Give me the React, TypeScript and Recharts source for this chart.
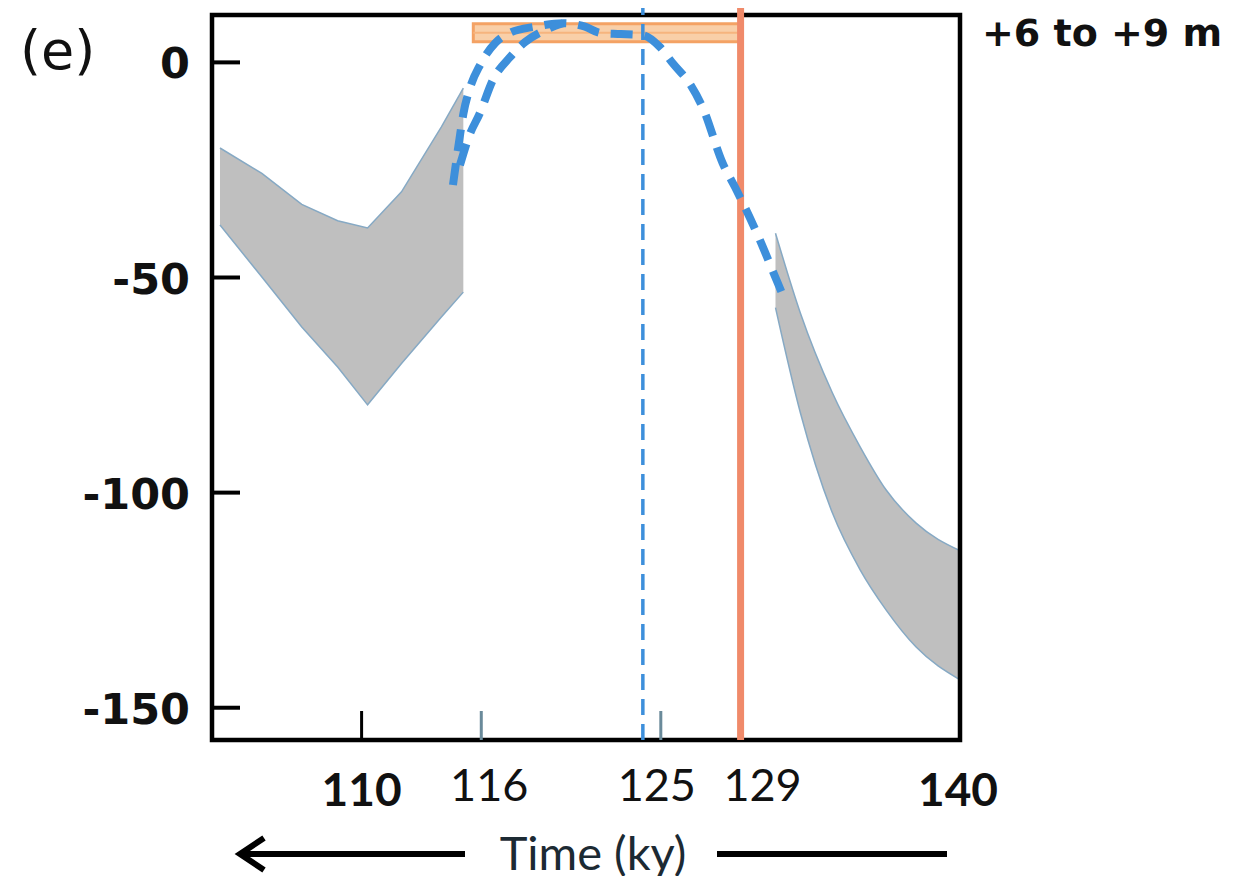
import React from "react";
import {
  ComposedChart,
  Area,
  Line,
  XAxis,
  YAxis,
  ReferenceLine,
  ReferenceArea,
} from "recharts";

// ---------- data ----------
const xDomain: [number, number] = [102.5, 140];
const yDomain: [number, number] = [-157.5, 14.5];
const plotTopValue = 11;

const xTicks = [110, 116, 125, 129, 140];
const xTicksBold = [110, 140];
const yTicks = [0, -50, -100, -150];

// left grey envelope (ky, m)
const leftBandX = [102.9, 105, 107, 108.8, 110.3, 112, 114, 115.1];
const leftBandUpper = [-19.9, -25.8, -33.0, -36.8, -38.5, -30.1, -15.0, -6.0];
const leftBandLower = [-37.8, -49.9, -61.5, -70.8, -79.6, -70.0, -59.2, -53.4];

// right grey envelope
const rightBandX = [130.75, 132, 133.6, 135, 136.3, 137.8, 140];
const rightBandUpper = [-39.7, -58.3, -76.8, -89.4, -99.4, -107.1, -113.5];
const rightBandLower = [-57.0, -81.5, -104.7, -118.0, -127.3, -135.9, -143.5];

// outer blue dashed curve
const outerX = [114.58, 114.9, 115.1, 115.45, 115.95, 116.7, 117.5, 118.7, 120.1, 121.2, 122.0, 123.0, 124.1, 124.95, 125.6, 126.5, 127.1, 128.1, 128.8, 129.97, 130.8, 131.2];
const outerY = [-28.5, -18.0, -12.0, -5.7, -0.5, 4.5, 7.0, 8.3, 9.1, 8.3, 6.8, 6.6, 6.3, 3.6, -0.2, -5.3, -10.5, -23.4, -29.7, -41.3, -50.6, -55.0];

// inner blue dashed curve
const innerX = [114.93, 115.4, 115.93, 116.58, 117.44, 118.19, 119.19, 120.1];
const innerY = [-23.9, -17.0, -11.8, -4.1, 1.2, 4.7, 7.5, 9.1];

// +6 to +9 m highstand band
const bandX = [115.6, 129];
const bandY = [4.8, 9];

const lineAt129 = 129;
const dashedAt = 124.1;

const labelTitle = "(e)";
const labelBand = "+6 to +9 m";
const labelX = "Time (ky)";

// ---------- tables built from arrays ----------
const leftBand = leftBandX.map((x, i) => ({ x, lo: leftBandLower[i], hi: leftBandUpper[i] }));
const rightBand = rightBandX.map((x, i) => ({ x, lo: rightBandLower[i], hi: rightBandUpper[i] }));
const outer = outerX.map((x, i) => ({ x, y: outerY[i] }));
const inner = innerX.map((x, i) => ({ x, y: innerY[i] }));

// ---------- layout / style ----------
const W = 1237;
const H = 876;
const PLOT_LEFT = 212;
const PLOT_RIGHT = 960;
const PLOT_BOTTOM = 740;
const BLUE = "#3d8fdb";
const ORANGE = "#f08a6a";
const GREY = "#bfbfbf";
const GREY_EDGE = "#86a9c4";

const xLabelShift: Record<number, number> = { 116: 8, 125: -4, 129: 22, 140: -2 };
const xTickColor: Record<number, string> = { 110: "#000", 116: "#6a8a9a", 125: "#6a8a9a" };

const XTick = (props: any) => {
  const { x, payload } = props;
  const v = payload.value as number;
  const bold = xTicksBold.includes(v);
  const col = xTickColor[v];
  return (
    <g>
      {col && (
        <line x1={x} x2={x} y1={PLOT_BOTTOM} y2={PLOT_BOTTOM - 29} stroke={col} strokeWidth={3} />
      )}
      <text
        x={x + (xLabelShift[v] || 0)}
        y={bold ? 806 : 801}
        textAnchor="middle"
        fontFamily="Lato, 'Open Sans', sans-serif"
        fontWeight={bold ? 700 : 400}
        fontSize={bold ? 46 : 45}
        fill="#111"
      >
        {v}
      </text>
    </g>
  );
};

const YTick = (props: any) => {
  const { y, payload } = props;
  return (
    <g>
      <line x1={PLOT_LEFT} x2={PLOT_LEFT + 28} y1={y} y2={y} stroke="#000" strokeWidth={4} />
      <text
        x={190}
        y={y + 1}
        textAnchor="end"
        dominantBaseline="central"
        fontFamily="'DejaVu Sans', Verdana, sans-serif"
        fontWeight={700}
        fontSize={43}
        fill="#111"
      >
        {payload.value}
      </text>
    </g>
  );
};

export default function App() {
  return (
    <div style={{ position: "relative", width: W, height: H, margin: "-8px 0 0 -8px", background: "#fff" }}>
      <ComposedChart
        width={W}
        height={H}
        margin={{ top: 0, right: W - PLOT_RIGHT, bottom: 0, left: 0 }}
      >
        <XAxis
          type="number"
          dataKey="x"
          domain={xDomain}
          allowDataOverflow
          ticks={xTicks}
          interval={0}
          axisLine={false}
          tickLine={false}
          height={H - PLOT_BOTTOM}
          tick={(p: any) => <XTick {...p} />}
        />
        <YAxis
          type="number"
          domain={yDomain}
          allowDataOverflow
          ticks={yTicks}
          interval={0}
          axisLine={false}
          tickLine={false}
          width={PLOT_LEFT}
          tick={(p: any) => <YTick {...p} />}
        />
        <ReferenceArea
          x1={bandX[0]}
          x2={bandX[1]}
          y1={bandY[0]}
          y2={bandY[1]}
          fill="#f9cfa8"
          fillOpacity={1}
          stroke="#f4a264"
          strokeWidth={3}
          ifOverflow="visible"
        />
        <ReferenceLine
          segment={[
            { x: bandX[0], y: (bandY[0] + bandY[1]) / 2 },
            { x: bandX[1], y: (bandY[0] + bandY[1]) / 2 },
          ]}
          stroke="#f6b47e"
          strokeWidth={2}
          ifOverflow="visible"
        />
        <Area
          data={leftBand}
          dataKey={(d: any) => [d.lo, d.hi]}
          type="linear"
          fill={GREY}
          fillOpacity={1}
          stroke={GREY_EDGE}
          strokeWidth={1.5}
          isAnimationActive={false}
          activeDot={false}
        />
        <Area
          data={rightBand}
          dataKey={(d: any) => [d.lo, d.hi]}
          type="monotone"
          fill={GREY}
          fillOpacity={1}
          stroke={GREY_EDGE}
          strokeWidth={1.5}
          isAnimationActive={false}
          activeDot={false}
        />
        <ReferenceLine x={dashedAt} stroke={BLUE} strokeWidth={3.5} strokeDasharray="16 9" ifOverflow="visible" />
        <ReferenceLine x={lineAt129} stroke={ORANGE} strokeWidth={7} ifOverflow="visible" />
        <Line
          data={outer}
          dataKey="y"
          type="monotone"
          stroke={BLUE}
          strokeWidth={8}
          strokeDasharray="22 12"
          dot={false}
          activeDot={false}
          isAnimationActive={false}
        />
        <Line
          data={inner}
          dataKey="y"
          type="monotone"
          stroke={BLUE}
          strokeWidth={8}
          strokeDasharray="22 12"
          dot={false}
          activeDot={false}
          isAnimationActive={false}
        />
        <ReferenceArea
          x1={xDomain[0]}
          x2={xDomain[1]}
          y1={yDomain[0]}
          y2={plotTopValue}
          fill="none"
          stroke="#000"
          strokeWidth={4.5}
          ifOverflow="visible"
        />
      </ComposedChart>
      <svg
        width={W}
        height={H}
        style={{ position: "absolute", left: 0, top: 0, pointerEvents: "none", overflow: "visible" }}
      >
        <text x={20} y={69} fontFamily="'DejaVu Sans', Verdana, sans-serif" fontSize={54} fill="#111">
          {labelTitle}
        </text>
        <text x={982} y={46} fontFamily="'DejaVu Sans', Verdana, sans-serif" fontWeight={700} fontSize={38} fill="#111">
          {labelBand}
        </text>
        <path d="M264,838 L240,854 L264,870" stroke="#000" strokeWidth={6} fill="none" />
        <line x1={241} x2={465} y1={854} y2={854} stroke="#000" strokeWidth={6} />
        <line x1={717} x2={947} y1={854} y2={854} stroke="#000" strokeWidth={6} />
        <text
          x={593}
          y={870}
          textAnchor="middle"
          fontFamily="Lato, 'Open Sans', sans-serif"
          fontSize={47}
          fill="#1c2a33"
        >
          {labelX}
        </text>
      </svg>
    </div>
  );
}
